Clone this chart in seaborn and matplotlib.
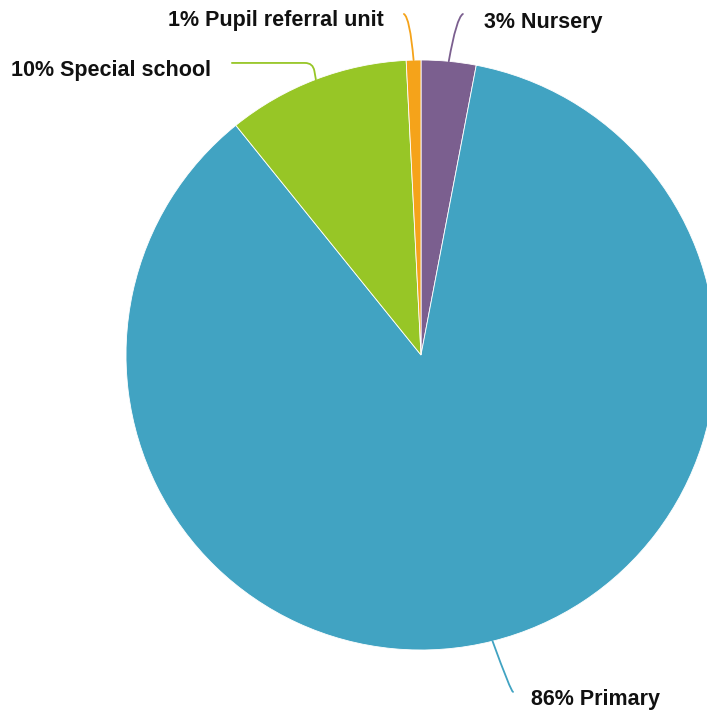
import numpy as np
import seaborn as sns
import matplotlib.pyplot as plt

# school types and share of pupils (%)
schools = ["Nursery", "Primary", "Special school", "Pupil referral unit"]
shares = [3.0, 86.2, 10.0, 0.8]
pct_labels = ["3%", "86%", "10%", "1%"]
colours = ["#7b5f8f", "#41a3c2", "#97c626", "#f5a31a"]

sns.set_style("white")
plt.rcParams['font.family'] = ['Liberation Sans', 'DejaVu Sans']

fig = plt.figure(figsize=(7.07, 7.14), dpi=100)
# center of pie at ~ (421, 355) px, radius ~295 px
ax = fig.add_axes([126 / 707, 64 / 714, 590 / 707, 590 / 714])
wedges, _ = ax.pie(shares, colors=colours, startangle=90, counterclock=False,
                   radius=1, wedgeprops=dict(edgecolor="white", linewidth=0.6))
ax.set_xlim(-1, 1)
ax.set_ylim(-1, 1)
ax.set_aspect("equal")
ax.axis("off")

# where the leader line ends and where the text goes
ends = [(0.142, 1.156), (0.312, -1.142), (-0.641, 0.990), (-0.058, 1.156)]
texts = [(0.214, 1.128, "left"), (0.373, -1.168, "left"),
         (-0.712, 0.965, "right"), (-0.125, 1.134, "right")]
conns = ["angle3,angleA=30,angleB=80",
         "angle3,angleA=0,angleB=110",
         "angle,angleA=0,angleB=100,rad=8",
         "angle3,angleA=150,angleB=95"]

for i, w in enumerate(wedges):
    mid = np.deg2rad((w.theta1 + w.theta2) / 2)
    start = (np.cos(mid), np.sin(mid))
    ax.annotate("", xy=start, xytext=ends[i], annotation_clip=False,
                arrowprops=dict(arrowstyle="-", color=colours[i], lw=1.3,
                                connectionstyle=conns[i],
                                shrinkA=0, shrinkB=0))
    tx, ty, ha = texts[i]
    ax.text(tx, ty, f"{pct_labels[i]} {schools[i]}", ha=ha, va="center",
            fontsize=15.5, fontweight="bold", color="#111111", clip_on=False)

fig.savefig("out.png", dpi=100)
